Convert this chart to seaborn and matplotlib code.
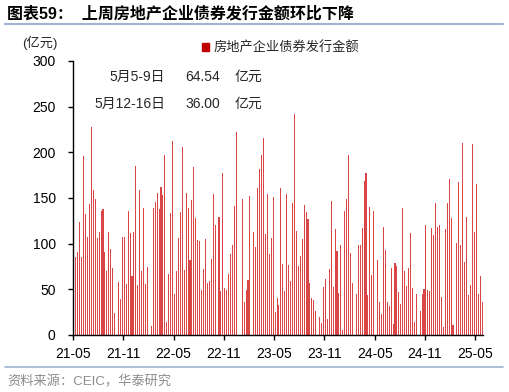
import matplotlib
matplotlib.use('Agg')
import matplotlib.pyplot as plt
import seaborn as sns
import pandas as pd
from matplotlib.patches import Patch
from matplotlib.lines import Line2D

# Weekly real-estate corporate bond issuance (亿元), 2021-05 .. 2025-05-16
weekly_issuance = [
    86, 85, 91, 124, 85, 196, 133, 107, 143, 228, 159, 149, 106, 113, 136, 138, 91, 70, 113, 94,
    73, 24, 0, 58, 39, 107, 107, 56, 136, 112, 65, 113, 185, 55, 159,
    70, 139, 56, 75, 0, 10, 139, 146, 155, 138, 162, 153, 197, 14, 67, 134, 212, 45, 70, 106,
    135, 206, 71, 155, 139, 82, 148, 184, 128, 104, 103, 49, 72, 105, 57, 59, 83,
    154, 120, 0, 129, 48, 177, 51, 49, 67, 89, 99, 141, 222, 0, 0, 149, 36, 49, 60, 152,
    0, 113, 96, 161, 182, 197, 216, 111, 154, 89, 106, 151, 25, 40, 33, 161,
    78, 48, 154, 77, 59, 145, 242, 114, 76, 87, 105, 142, 135, 127, 57, 40, 38, 26, 0,
    20, 13, 53, 61, 18, 72, 147, 53, 116, 92, 46, 99, 5, 136, 149, 197, 90,
    57, 0, 45, 99, 99, 117, 169, 177, 44, 140, 66, 136, 0, 82, 36, 23, 118, 93, 36, 32,
    73, 12, 79, 76, 47, 34, 139, 70, 54, 73, 112, 51, 14, 45, 0, 26,
    45, 50, 120, 49, 48, 117, 110, 144, 118, 120, 42, 9, 116, 144, 171, 128, 11, 0,
    101, 168, 99, 210, 80, 129, 44, 55, 209, 113, 165, 45, 64.54, 36.00,
]
tick_labels = ['21-05', '21-11', '22-05', '22-11', '23-05', '23-11', '24-05', '24-11', '25-05']
weeks_per_tick = 26
last_weeks = ['5月5-9日', '5月12-16日']
last_values = [64.54, 36.00]

RED = '#C00000'
BAR_RED = '#DA4545'
sns.set_style('ticks')
plt.rcParams['font.family'] = ['Liberation Sans', 'Noto Sans CJK SC', 'DejaVu Sans']
plt.rcParams['axes.unicode_minus'] = False

fig = plt.figure(figsize=(5.09, 3.92), dpi=100)
ax = fig.add_axes([73 / 509, 1 - 335 / 392, (483 - 73) / 509, (335 - 61) / 392])

df = pd.DataFrame({'week': range(len(weekly_issuance)), 'amount': weekly_issuance})
sns.barplot(data=df, x='week', y='amount', color=BAR_RED, saturation=1, width=0.55,
            linewidth=0, ax=ax)

n = len(weekly_issuance)
ax.set_xlim(-0.5, n - 0.5)
ax.set_ylim(0, 300)
ax.set_yticks(range(0, 301, 50))
ax.set_xticks([-0.5 + weeks_per_tick * k for k in range(len(tick_labels))])
ax.set_xticklabels(tick_labels)
ax.set_xlabel('')
ax.set_ylabel('')
for s in ['top', 'right']:
    ax.spines[s].set_visible(False)
for s in ['left', 'bottom']:
    ax.spines[s].set_color('black')
    ax.spines[s].set_linewidth(1.0)
ax.tick_params(axis='both', direction='out', length=3.5, width=1, color='black',
               labelsize=10, labelcolor='black')
ax.tick_params(axis='y', pad=9)
ax.tick_params(axis='x', pad=5)
ax.grid(False)

# legend
leg = ax.legend(handles=[Patch(facecolor=RED, edgecolor=RED, label='房地产企业债券发行金额')],
                loc='center left', bbox_to_anchor=(195 / 509, 1 - 48 / 392),
                bbox_transform=fig.transFigure, frameon=False, fontsize=9.5,
                handlelength=0.55, handleheight=0.55, handletextpad=0.35, borderpad=0)

# annotations
for i, (lab, val) in enumerate(zip(last_weeks, last_values)):
    y = 1 - (77 + 27 * i) / 392
    fig.text(165 / 509, y, lab, ha='right', va='center', fontsize=10)
    fig.text(203 / 509, y, f'{val:.2f}', ha='center', va='center', fontsize=10)
    fig.text(248 / 509, y, '亿元', ha='center', va='center', fontsize=10)

fig.text(40 / 509, 1 - 43 / 392, '(亿元)', ha='center', va='center', fontsize=9.5)

# title and frame lines
fig.text(7 / 509, 1 - 14 / 392, '图表59：  上周房地产企业债券发行金额环比下降',
         ha='left', va='center', fontsize=11.5, fontweight='bold', color='black')
fig.add_artist(Line2D([5 / 509, 503 / 509], [1 - 24 / 392, 1 - 24 / 392],
                      transform=fig.transFigure, color='#9DB3D0', lw=1.5))
fig.add_artist(Line2D([5 / 509, 503 / 509], [1 - 367 / 392, 1 - 367 / 392],
                      transform=fig.transFigure, color='#9DB3D0', lw=1.2))
fig.text(7 / 509, 1 - 382 / 392, '资料来源：CEIC，华泰研究', ha='left', va='center',
         fontsize=9.5, color='#8C8C8C')

fig.savefig('out.png', dpi=100)
